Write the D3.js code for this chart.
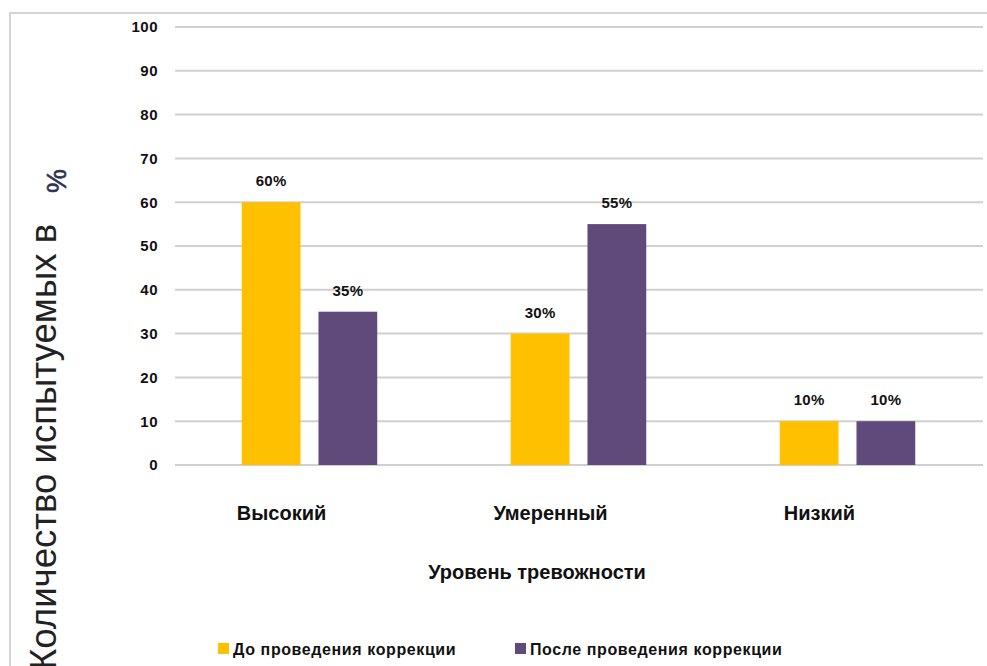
<!DOCTYPE html>
<html>
<head>
<meta charset="utf-8">
<script src="https://cdn.jsdelivr.net/npm/d3@7"></script>
<style>
  html, body { margin: 0; padding: 0; background: #fff; }
  svg { display: block; }
  .lbl { font-family: "Liberation Sans", Arial, sans-serif; font-weight: bold; fill: #111; }
</style>
</head>
<body>
<svg id="chart" width="987" height="666"></svg>
<script>
// Уровни тревожности и доля испытуемых (%) до и после коррекции
const categories = ["Высокий", "Умеренный", "Низкий"];
const seriesNames = ["До проведения коррекции", "После проведения коррекции"];
const beforeValues = [60, 30, 10];
const afterValues = [35, 55, 10];
const yTicks = [0, 10, 20, 30, 40, 50, 60, 70, 80, 90, 100];
const seriesColors = ["#FFC000", "#604A7B"];
const xTitle = "Уровень тревожности";
const yTitle = "Количество испытуемых в";
const yUnit = "%";

const rows = categories.map((c, i) => ({
  category: c,
  values: [beforeValues[i], afterValues[i]]
}));

const svg = d3.select("#chart");

// chart frame
svg.append("rect")
  .attr("x", 10).attr("y", 13)
  .attr("width", 990).attr("height", 700)
  .attr("fill", "none")
  .attr("stroke", "#d4d4d4")
  .attr("stroke-width", 2);

const plot = { left: 175, right: 982, top: 27, bottom: 465 };

const x = d3.scaleBand()
  .domain(categories)
  .range([plot.left, plot.right]);

const xInner = d3.scaleBand()
  .domain(d3.range(seriesNames.length))
  .range([0, x.bandwidth()])
  .paddingInner(0.234)
  .paddingOuter(0.87);

const y = d3.scaleLinear()
  .domain([0, 100])
  .range([plot.bottom, plot.top]);

// horizontal gridlines
svg.append("g")
  .selectAll("line")
  .data(yTicks)
  .join("line")
  .attr("x1", plot.left)
  .attr("x2", plot.right + 1)
  .attr("y1", d => y(d))
  .attr("y2", d => y(d))
  .attr("stroke", "#d0d0d0")
  .attr("stroke-width", 2);

// y axis tick labels
const yAxis = d3.axisLeft(y)
  .tickValues(yTicks)
  .tickSize(0)
  .tickPadding(0)
  .tickFormat(d3.format("d"));

const gy = svg.append("g")
  .attr("transform", "translate(158,0)")
  .call(yAxis);
gy.select(".domain").remove();
gy.selectAll("text")
  .attr("class", "lbl")
  .attr("font-size", 15)
  .attr("letter-spacing", "0.5")
  .attr("fill", "#111");

// bars
const groups = svg.append("g")
  .selectAll("g")
  .data(rows)
  .join("g")
  .attr("transform", d => `translate(${x(d.category)},0)`);

groups.selectAll("rect")
  .data(d => d.values.map((v, i) => ({ v, i })))
  .join("rect")
  .attr("x", d => xInner(d.i))
  .attr("width", xInner.bandwidth())
  .attr("y", d => y(d.v))
  .attr("height", d => y(0) - y(d.v))
  .attr("fill", d => seriesColors[d.i]);

// value labels
groups.selectAll("text")
  .data(d => d.values.map((v, i) => ({ v, i })))
  .join("text")
  .attr("class", "lbl")
  .attr("x", d => xInner(d.i) + xInner.bandwidth() / 2)
  .attr("y", d => y(d.v) - 16)
  .attr("text-anchor", "middle")
  .attr("font-size", 15)
  .attr("letter-spacing", "0.3")
  .text(d => d.v + "%");

// category labels
svg.append("g")
  .selectAll("text")
  .data(categories)
  .join("text")
  .attr("class", "lbl")
  .attr("x", d => x(d) + x.bandwidth() / 2 - 28)
  .attr("y", 520)
  .attr("text-anchor", "middle")
  .attr("font-size", 20)
  .text(d => d);

// x axis title
svg.append("text")
  .attr("class", "lbl")
  .attr("x", 537)
  .attr("y", 579)
  .attr("text-anchor", "middle")
  .attr("font-size", 20)
  .text(xTitle);

// y axis title
svg.append("text")
  .attr("transform", "translate(56,670) rotate(-90)")
  .attr("font-family", "'Liberation Sans', Arial, sans-serif")
  .attr("font-size", 36.6)
  .attr("fill", "#222")
  .text(yTitle);

svg.append("text")
  .attr("transform", "translate(66,193) rotate(-90)")
  .attr("font-family", "'Liberation Sans', Arial, sans-serif")
  .attr("font-size", 27)
  .attr("fill", "#2c3354")
  .attr("stroke", "#2c3354")
  .attr("stroke-width", 0.6)
  .text(yUnit);

// legend
const legendX = [218, 515];
const legend = svg.append("g")
  .selectAll("g")
  .data(seriesNames)
  .join("g")
  .attr("transform", (d, i) => `translate(${legendX[i]},643)`);

legend.append("rect")
  .attr("width", 11)
  .attr("height", 11)
  .attr("fill", (d, i) => seriesColors[i]);

legend.append("text")
  .attr("class", "lbl")
  .attr("x", 15)
  .attr("y", 12)
  .attr("font-size", 16)
  .attr("letter-spacing", "0.6")
  .text(d => d);
</script>
</body>
</html>
